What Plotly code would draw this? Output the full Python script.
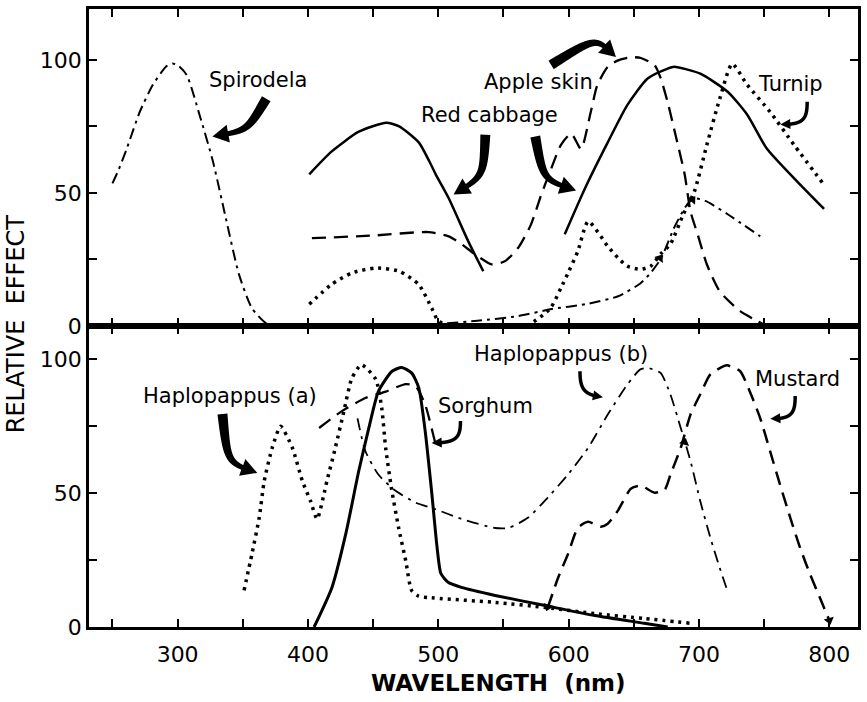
import numpy as np
import plotly.graph_objects as go

# ---------------- data ----------------
# Top panel
spirodela_w = [250, 255, 261, 271, 281, 291, 296, 300, 307, 317, 327, 337, 347, 357, 368, 378, 420, 470,
               500, 530, 561, 587, 613, 638, 655, 663, 671, 681, 690, 696, 705, 722, 747]
spirodela_y = [53.6, 59, 66.7, 80.5, 90.6, 97.4, 98.6, 98, 94.3, 79, 62, 40.5, 19.5, 6.7, 1, 0, 0, 0,
               0.8, 2, 3.7, 6.4, 8.2, 11.2, 16, 20, 25.5, 37, 45, 48, 47, 42, 33.7]

cabbage_w = [401, 418, 439, 460, 470, 485, 493, 498, 508, 523, 534.5, None,
             597, 612.5, 630, 645, 660.6, 676, 681, 701, 722, 737, 752, 773, 796]
cabbage_y = [57, 65.5, 73, 76.4, 75, 69, 62, 57, 48, 31.8, 20.6, None,
             34.5, 51.7, 69, 83, 93, 96.7, 97.4, 94.8, 88, 79.4, 66.7, 55.5, 44]

apple_w = [403, 450, 492.5, 508, 518, 528, 541, 551, 561, 571, 579, 586.5, 594, 602, 609.5,
           617, 622, 630, 638, 648, 655.4, 666, 670.7, 676, 682, 689, 693.5, 699, 706, 716, 731.6, 744.6, 752]
apple_y = [33, 34, 35.3, 33.7, 30.7, 27, 23.2, 24.3, 29.2, 38, 49.4, 59, 68, 72.3, 66.5,
           80.5, 90.5, 97.4, 99.8, 101, 100.7, 98, 93, 84, 71.8, 57, 43, 34.4, 23.2, 13, 5.6, 1.9, 0]

turnip_w = [401, 418, 434, 452, 470, 485, 495, 500, 510, 540, 569, 586, 594, 599.5, 607, 615, 630, 638,
            645, 655, 663, 671, 678, 688, 696.5, 706, 716, 725.5, 737, 754.5, 773, 796]
turnip_y = [8.2, 15.6, 20, 21.8, 20.6, 15.6, 6.7, 1.9, 0, 0, 0.5, 6.7, 14.2, 19.9, 28, 39.3, 30, 25.5,
            22.5, 21.3, 22.5, 27.3, 30.7, 42, 50.6, 68, 85.5, 98.5, 90.6, 80.5, 68, 53]

# Bottom panel
hapa_w = [351, 357, 362.6, 366.5, 372.6, 379, 388, 395.6, 402, 407, 414.6, 421, 427.6, 433.7, 441, 452,
          456.6, 459.6, 464, 469.6, 475, 479.5, 485, 492.5, 543.6, 582, 620, 658, 693.5]
hapa_y = [13.7, 27.3, 40.9, 54.7, 67, 75, 67, 54.7, 47, 40.4, 54.7, 67, 80.7, 93, 98, 92.6,
          81.8, 67, 52, 37, 24.8, 13.7, 11.5, 11, 9.2, 7.3, 5, 3.2, 1.4]

sorghum_w = [404.7, 418.4, 429, 439, 446.7, 454, 464.5, 472, 479.5, 485, 490, 495, 499, 502, 507.8,
             517.7, 543.6, 582, 620, 658, 676]
sorghum_y = [0, 14.8, 34.8, 58.4, 74.4, 88, 95.6, 97, 95, 89.4, 73, 50, 30, 20, 16.6,
             14.8, 11.8, 8, 4.3, 1.4, 0]

sorghum2_w = [408.5, 426, 444, 459.7, 475, 482.6, 490, 498]
sorghum2_y = [74.4, 80.7, 85.6, 88, 90.8, 90, 83, 68]

hapb_w = [438, 444, 454, 467, 482.6, 498, 517.7, 543.6, 553.6, 569, 584, 599.5, 615, 630, 645, 655,
          660.6, 670.5, 678, 686, 693.5, 701, 708.7, 716, 721.7]
hapb_y = [78, 65.8, 57, 51, 46.5, 44, 40.4, 37, 37, 40.9, 48.4, 57, 67, 79.4, 90.6, 96.3,
          96.8, 95, 87, 74.4, 62, 47, 33.4, 22, 13.7]

mustard_w = [584, 592, 599.5, 607, 614.9, 624.8, 630, 637.8, 647.7, 655.4, 666, 673.7, 678.3, 686, 693.5,
             701, 708.7, 719, 721.7, 731.6, 739, 747, 754.5, 762, 770, 777.5, 785, 792.7, 800]
mustard_y = [7.3, 18.5, 27.3, 37, 39.3, 37.5, 38.6, 43.5, 51.7, 52.8, 50.2, 51.3, 57.2, 67, 79.4,
             87, 94.4, 97.5, 97.8, 95.6, 88, 78, 65.8, 53.5, 40.9, 29.7, 20, 11, 2.5]

# small direction arrowheads drawn on curves
top_heads_w = [670, 695]
top_heads_y = [25.5, 47.5]
top_heads_angle = [35, 40]
bot_heads_w = [689, 800, 584]
bot_heads_y = [69, 2.5, 7.5]
bot_heads_angle = [15, 165, 200]

x_ticks = [250, 300, 350, 400, 450, 500, 550, 600, 650, 700, 750, 800]
x_ticktext = ["", "300", "", "400", "", "500", "", "600", "", "700", "", "800"]
y_ticks = [0, 25, 50, 75, 100]
y_ticktext = ["0", "", "50", "", "100"]

# ---------------- layout constants ----------------
W, H = 867, 702
ML, MR, MT, MB = 89, 6, 7, 75
X_RANGE = [232, 822]
Y_TOP = [0, 119.1]
Y_BOT = [0, 112.5]
SPLIT = 0.487
PW = W - ML - MR
PH = H - MT - MB
KX = PW / (X_RANGE[1] - X_RANGE[0])
KY = {"top": PH * (1 - SPLIT) / (Y_TOP[1] - Y_TOP[0]),
      "bot": PH * SPLIT / (Y_BOT[1] - Y_BOT[0])}

FONT = "DejaVu Sans"


def arrow_shapes(pts, panel, w_tail, w_end, head_len, head_w):
    """Curved filled arrow along a cubic bezier given in data coords."""
    ky = KY[panel]
    P = [np.array([(w - X_RANGE[0]) * KX, y * ky]) for (w, y) in pts]
    t = np.linspace(0, 1, 300)[:, None]
    B = ((1 - t) ** 3) * P[0] + 3 * ((1 - t) ** 2) * t * P[1] + 3 * (1 - t) * t ** 2 * P[2] + t ** 3 * P[3]
    seg = np.linalg.norm(np.diff(B, axis=0), axis=1)
    d = np.concatenate([[0], np.cumsum(seg)])
    L = d[-1]
    body = B[d <= L - head_len]
    tip = B[-1]
    tang = np.gradient(body, axis=0)
    tang = tang / np.linalg.norm(tang, axis=1)[:, None]
    nrm = np.stack([-tang[:, 1], tang[:, 0]], axis=1)
    wid = np.linspace(w_tail, w_end, len(body))[:, None]
    left = body + nrm * wid / 2
    right = body - nrm * wid / 2
    base = body[-1]
    dvec = (tip - base) / np.linalg.norm(tip - base)
    hn = np.array([-dvec[1], dvec[0]])
    bl = base + hn * head_w / 2
    br = base - hn * head_w / 2
    poly = list(left) + [bl, tip, br] + list(right[::-1])
    xs = [p[0] / KX + X_RANGE[0] for p in poly]
    ys = [p[1] / ky for p in poly]
    path = "M " + " L ".join(f"{a:.3f},{b:.3f}" for a, b in zip(xs, ys)) + " Z"
    xref, yref = ("x2", "y2") if panel == "top" else ("x", "y")
    return dict(type="path", path=path, xref=xref, yref=yref,
                fillcolor="black", line=dict(width=0), layer="above")


fig = go.Figure()


def add(xv, yv, dash, width, panel):
    fig.add_trace(go.Scatter(
        x=xv, y=yv, mode="lines", connectgaps=False,
        line=dict(color="black", width=width, dash=dash, shape="spline", smoothing=0.6),
        xaxis="x2" if panel == "top" else "x",
        yaxis="y2" if panel == "top" else "y",
        showlegend=False, hoverinfo="skip"))


DOT = "3px,5px"
DASH = "14px,8px"
DASHDOT = "11px,5px,3px,5px"

add(spirodela_w, spirodela_y, DASHDOT, 2, "top")
add(cabbage_w, cabbage_y, "solid", 2.5, "top")
add(apple_w, apple_y, DASH, 2.3, "top")
add(turnip_w, turnip_y, DOT, 3.5, "top")

add(hapa_w, hapa_y, DOT, 3.5, "bot")
add(sorghum_w, sorghum_y, "solid", 3, "bot")
add(sorghum2_w, sorghum2_y, DASH, 2.3, "bot")
add(hapb_w, hapb_y, "12px,6px,3px,6px", 1.8, "bot")
add(mustard_w, mustard_y, DASH, 2.5, "bot")

fig.add_trace(go.Scatter(x=top_heads_w, y=top_heads_y, mode="markers", xaxis="x2", yaxis="y2",
                         marker=dict(symbol="triangle-up", size=9, color="black", angle=top_heads_angle),
                         showlegend=False, hoverinfo="skip"))
fig.add_trace(go.Scatter(x=bot_heads_w, y=bot_heads_y, mode="markers", xaxis="x", yaxis="y",
                         marker=dict(symbol="triangle-up", size=9, color="black", angle=bot_heads_angle),
                         showlegend=False, hoverinfo="skip"))

shapes = []
# thick curved arrows
shapes.append(arrow_shapes([(368.0, 85.4), (353.5, 73.4), (353.5, 73.4), (326.7, 71.2)], "top", 10, 5, 16, 18))
shapes.append(arrow_shapes([(536.1, 71.9), (534.6, 56.2), (534.6, 56.2), (511.7, 49.4)], "top", 10, 5, 16, 18))
shapes.append(arrow_shapes([(574.4, 71.2), (580.5, 55.0), (580.5, 55.0), (605.7, 50.9)], "top", 10, 5, 16, 18))
shapes.append(arrow_shapes([(586.6, 98.1), (621.0, 108.6), (621.0, 108.6), (636.3, 101.1)], "top", 10, 5, 16, 18))
shapes.append(arrow_shapes([(334.4, 79.6), (338.2, 61.4), (338.2, 61.4), (361.1, 57.6)], "bot", 10, 5, 16, 18))
# thin hooked arrows
shapes.append(arrow_shapes([(783.0, 84.3), (783.0, 77.5), (780.0, 75.7), (762.4, 75.7)], "top", 3.5, 3.5, 10, 10))
shapes.append(arrow_shapes([(517.0, 77.0), (517.0, 70.7), (514.0, 68.8), (494.9, 68.8)], "bot", 3.5, 3.5, 10, 10))
shapes.append(arrow_shapes([(608.7, 95.6), (608.7, 89.0), (611.8, 86.7), (626.3, 85.9)], "bot", 3.5, 3.5, 10, 10))
shapes.append(arrow_shapes([(773.8, 86.3), (773.8, 79.6), (770.7, 77.8), (754.7, 77.8)], "bot", 3.5, 3.5, 10, 10))

lab_font = dict(family=FONT, size=21, color="black")
annotations = [
    dict(text="Spirodela", x=361.9, y=92.5, xref="x2", yref="y2"),
    dict(text="Red cabbage", x=539.6, y=79.4, xref="x2", yref="y2"),
    dict(text="Apple skin", x=576.7, y=91.8, xref="x2", yref="y2"),
    dict(text="Turnip", x=770, y=91, xref="x2", yref="y2"),
    dict(text="Haplopappus (a)", x=340.5, y=86.3, xref="x", yref="y"),
    dict(text="Sorghum", x=536, y=82.6, xref="x", yref="y"),
    dict(text="Haplopappus (b)", x=593.8, y=101.9, xref="x", yref="y"),
    dict(text="Mustard", x=775.3, y=92.6, xref="x", yref="y"),
]
for a in annotations:
    a.update(showarrow=False, font=lab_font, xanchor="center", yanchor="middle")

annotations.append(dict(text="<b>WAVELENGTH  (nm)</b>", x=(500 - ML) / PW, y=(PH + MT - 683) / PH,
                        xref="paper", yref="paper", showarrow=False, xanchor="center", yanchor="middle",
                        font=dict(family=FONT, size=23, color="black")))
annotations.append(dict(text="RELATIVE  EFFECT", x=(16 - ML) / PW, y=(PH + MT - 323) / PH,
                        xref="paper", yref="paper", showarrow=False, xanchor="center", yanchor="middle",
                        textangle=-90, font=dict(family=FONT, size=24, color="black")))

axis_common = dict(showline=True, linecolor="black", linewidth=2.5, mirror="ticks",
                   ticks="inside", ticklen=8, tickwidth=2, tickcolor="black",
                   showgrid=False, zeroline=False,
                   tickfont=dict(family=FONT, size=22, color="black"))

fig.update_layout(
    width=W, height=H,
    margin=dict(l=ML, r=MR, t=MT, b=MB),
    paper_bgcolor="white", plot_bgcolor="white",
    xaxis=dict(range=X_RANGE, anchor="y", tickmode="array", tickvals=x_ticks, ticktext=x_ticktext,
               ticklabelstandoff=6, **axis_common),
    xaxis2=dict(range=X_RANGE, anchor="y2", matches="x", tickmode="array", tickvals=x_ticks,
                showticklabels=False, **axis_common),
    yaxis=dict(range=Y_BOT, domain=[0, SPLIT], anchor="x", tickmode="array", tickvals=y_ticks,
               ticktext=y_ticktext, **axis_common),
    yaxis2=dict(range=Y_TOP, domain=[SPLIT, 1], anchor="x2", tickmode="array", tickvals=y_ticks,
                ticktext=y_ticktext, **axis_common),
    shapes=shapes,
    annotations=annotations,
)

fig.write_html("out.html", config={"displayModeBar": False},
               post_script="document.body.style.margin='0';document.body.style.overflow='hidden';")
